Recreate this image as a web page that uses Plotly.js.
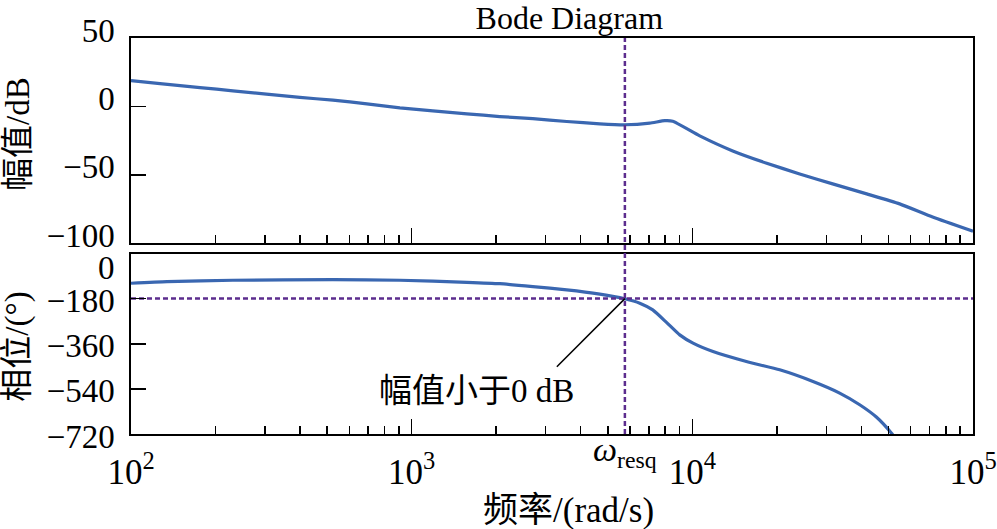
<!DOCTYPE html>
<html>
<head>
<meta charset="utf-8">
<script src="https://cdn.plot.ly/plotly-3.0.1.min.js"></script>
<style>html,body{margin:0;padding:0;background:#fff;}#chart{width:997px;height:529px;}</style>
</head>
<body>
<div id="chart"></div>
<script>
// ---- data ----
const magFreq = [100, 126.9, 176.1, 230.7, 399.6, 524.1, 692.6, 907.8, 1190, 1573, 2062, 2702, 3570, 4680, 5745, 7053, 7977, 8517, 10627, 13930, 18410, 24130, 31620, 41800, 54780, 71800, 100000];
const magDb   = [18.8, 16.7, 13.8, 11.4, 6.6, 4.6, 1.9, -1.0, -3.2, -5.4, -7.4, -8.9, -11.0, -12.7, -13.4, -12.2, -10.4, -10.8, -21.5, -32.5, -41.5, -49.3, -56.6, -63.9, -71.2, -80.8, -91.2];
const phaseFreq = [100, 134.4, 230.7, 524.1, 907.8, 1573, 2062, 2702, 3570, 4680, 5745, 6497, 7228, 8105, 9018, 10058, 11850, 15580, 20480, 26910, 33490, 39470, 45250, 51170, 53460];
const phaseDeg  = [-118.7, -112, -106.8, -104.3, -106.8, -114.8, -120.5, -132, -145, -162, -180.5, -198, -225, -275.6, -324.6, -357.6, -391.1, -430.9, -464.0, -510.5, -556.7, -603.3, -652.3, -716, -745];
const omegaResq = 5750;
const phaseRef = -180;
const leaderX = [3290, 5750];
const leaderY = [-452, -180];

const xTickVals = [100, 1000, 10000, 100000];
const xTickText = ['10<sup>2</sup>', '10<sup>3</sup>', '10<sup>4</sup>', '10<sup>5</sup>'];
const magTickVals = [50, 0, -50, -100];
const magTickText = ['50', '0', '\u221250', '\u2212100'];
const phaseTickVals = [0, -180, -360, -540, -720];
const phaseTickText = ['', '\u2212180', '\u2212360', '\u2212540', '\u2212720'];
const phaseTopLabel = '0';

const titleText = 'Bode Diagram';
const magTitle = '幅值/dB';
const phaseTitle = '相位/(°)';
const xTitle = '频率/(rad/s)';
const annText = '幅值小于0 dB';
const omegaText = '<i>ω</i><sub>resq</sub>';

// ---- styling ----
const FONT = '"Liberation Serif", "Times New Roman", "DejaVu Serif", "Noto Sans CJK SC", serif';
const BLUE = '#3A67B1';
const PURPLE = '#5C2D8E';

const traces = [
  {x: magFreq, y: magDb, xaxis: 'x', yaxis: 'y', mode: 'lines', line: {color: BLUE, width: 3.2, shape: 'spline', smoothing: 0.5}, hoverinfo: 'skip'},
  {x: phaseFreq, y: phaseDeg, xaxis: 'x2', yaxis: 'y2', mode: 'lines', line: {color: BLUE, width: 3.2, shape: 'spline', smoothing: 0.5}, hoverinfo: 'skip'},
  {x: [xTickVals[0], xTickVals[xTickVals.length - 1]], y: [phaseRef, phaseRef], xaxis: 'x2', yaxis: 'y2', mode: 'lines', line: {color: PURPLE, width: 2.5, dash: '5px,3px'}, hoverinfo: 'skip'},
  {x: leaderX, y: leaderY, xaxis: 'x2', yaxis: 'y2', mode: 'lines', line: {color: '#000', width: 1.5}, hoverinfo: 'skip'}
];

const axisCommon = {
  type: 'log',
  range: [2, 5],
  showgrid: false,
  zeroline: false,
  showline: true,
  mirror: true,
  linecolor: '#000',
  linewidth: 1.6,
  ticks: 'inside',
  ticklen: 15,
  tickwidth: 1.5,
  tickcolor: '#000',
  tickmode: 'array',
  tickvals: xTickVals,
  ticktext: xTickText,
  minor: {ticks: 'inside', ticklen: 8, tickwidth: 1.5, tickcolor: '#000', dtick: 'D1', showgrid: false}
};

const yCommon = {
  showgrid: false,
  zeroline: false,
  showline: true,
  mirror: true,
  linecolor: '#000',
  linewidth: 1.6,
  ticks: 'inside',
  ticklen: 15,
  tickwidth: 1.5,
  tickcolor: '#000',
  tickmode: 'array',
  tickfont: {family: FONT, size: 33, color: '#000'},
  ticklabelstandoff: 8
};

const layout = {
  width: 997,
  height: 529,
  margin: {l: 131, r: 24, t: 38, b: 95},
  paper_bgcolor: '#fff',
  plot_bgcolor: '#fff',
  showlegend: false,
  font: {family: FONT, color: '#000'},
  title: {text: titleText, font: {family: FONT, size: 32, color: '#000'}, x: 0.571, xref: 'container', xanchor: 'center', y: 0.988, yref: 'container', yanchor: 'top', pad: {t: 0, b: 0}},
  xaxis: Object.assign({}, axisCommon, {domain: [0, 1], anchor: 'y', showticklabels: false, matches: 'x2'}),
  xaxis2: Object.assign({}, axisCommon, {domain: [0, 1], anchor: 'y2', tickfont: {family: FONT, size: 35, color: '#000'}, ticklabelstandoff: 6}),
  yaxis: Object.assign({}, yCommon, {domain: [0.4816, 1], anchor: 'x', range: [-100, 50], tickvals: magTickVals, ticktext: magTickText, ticklabelshift: -8}),
  yaxis2: Object.assign({}, yCommon, {domain: [0, 0.4558], anchor: 'x2', range: [-720, 0], tickvals: phaseTickVals, ticktext: phaseTickText, ticklabelshift: 2}),
  shapes: [
    {type: 'line', xref: 'x', yref: 'paper', x0: omegaResq, x1: omegaResq, y0: 0, y1: 1, line: {color: PURPLE, width: 2.5, dash: '5px,3px'}}
  ],
  annotations: [
    {text: annText, xref: 'paper', yref: 'paper', x: 0.4102, y: 0.108, xanchor: 'center', yanchor: 'middle', showarrow: false, font: {family: FONT, size: 33, color: '#000'}},
    {text: omegaText, xref: 'x2', yref: 'paper', x: Math.log10(omegaResq), y: -0.045, xanchor: 'center', yanchor: 'middle', showarrow: false, font: {family: FONT, size: 34, color: '#000'}},
    {text: xTitle, xref: 'paper', yref: 'paper', x: 0.52, y: -0.192, xanchor: 'center', yanchor: 'middle', showarrow: false, font: {family: FONT, size: 35, color: '#000'}},
    {text: magTitle, xref: 'paper', yref: 'paper', x: -0.1342, y: 0.7576, xanchor: 'center', yanchor: 'middle', textangle: -90, showarrow: false, font: {family: FONT, size: 33, color: '#000'}},
    {text: phaseTitle, xref: 'paper', yref: 'paper', x: -0.1342, y: 0.2205, xanchor: 'center', yanchor: 'middle', textangle: -90, showarrow: false, font: {family: FONT, size: 33, color: '#000'}},
    {text: phaseTopLabel, xref: 'paper', yref: 'paper', x: -0.0166, y: 0.419, xanchor: 'right', yanchor: 'middle', showarrow: false, font: {family: FONT, size: 33, color: '#000'}}
  ]
};

Plotly.newPlot('chart', traces, layout, {displayModeBar: false, staticPlot: true});
</script>
</body>
</html>
